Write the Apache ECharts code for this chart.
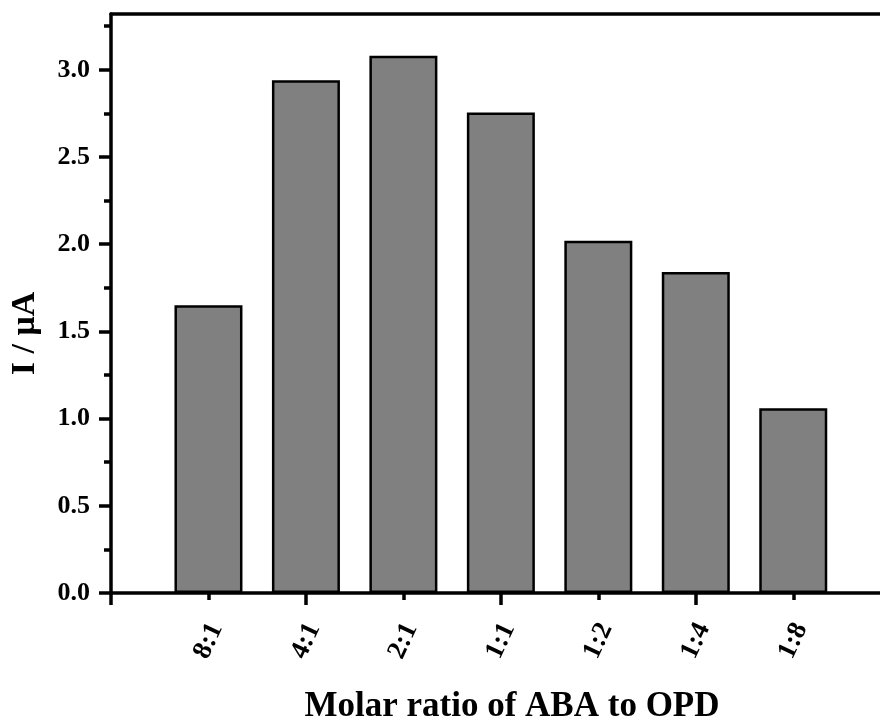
<!DOCTYPE html>
<html>
<head>
<meta charset="utf-8">
<script src="https://cdn.jsdelivr.net/npm/echarts@6/dist/echarts.min.js"></script>
<style>
  html, body { margin: 0; padding: 0; background: #fff; }
  #chart { width: 880px; height: 720px; }
</style>
</head>
<body>
<div id="chart"></div>
<script>
// molar ratio categories, placed at x = 1..7
const ratios = ['8:1', '4:1', '2:1', '1:1', '1:2', '1:4', '1:8']
const current = [1.65, 2.94, 3.08, 2.755, 2.02, 1.84, 1.06] // I / µA
const yMajor = [0, 0.5, 1.0, 1.5, 2.0, 2.5, 3.0]
const yMinor = [0.25, 0.75, 1.25, 1.75, 2.25, 2.75, 3.25]
const xMajor = [0, 2, 4, 6]
const xMinor = [1, 3, 5, 7]

const font = '"Liberation Serif", "Times New Roman", serif'
const positions = ratios.map((_, i) => i + 1)

const chart = echarts.init(document.getElementById('chart'))

// the frame runs off the right edge of the picture, so x stops short of 8
const baseX = {
  type: 'value',
  min: 0,
  max: 7.89,
  splitLine: { show: false },
}
const baseY = {
  type: 'value',
  min: 0,
  max: 3.32,
  position: 'left',
  splitLine: { show: false },
}
const black = { color: '#000', width: 3.5 }

chart.setOption({
  animation: false,
  grid: { left: 111, right: 0, top: 14, bottom: 127, outerBoundsMode: 'none' },
  xAxis: [
    {
      ...baseX,
      position: 'bottom',
      name: 'Molar ratio of ABA to OPD',
      nameLocation: 'middle',
      nameGap: 96,
      nameTextStyle: { fontFamily: font, fontWeight: 'bold', fontSize: 35, color: '#000', padding: [0, 0, 0, 33] },
      axisLine: { lineStyle: black },
      axisTick: { customValues: xMajor, length: 12, lineStyle: black },
      axisLabel: {
        customValues: positions,
        formatter: (v) => ratios[Math.round(v) - 1] || '',
        rotate: 65,
        align: 'center',
        verticalAlign: 'middle',
        margin: 48,
        fontFamily: font, fontWeight: 'bold', fontSize: 27, color: '#000',
      },
    },
    {
      ...baseX,
      position: 'bottom',
      axisLine: { show: false },
      axisTick: { customValues: xMinor, length: 7, lineStyle: black },
      axisLabel: { show: false },
    },
    {
      // top edge of the frame
      ...baseX,
      position: 'top',
      axisLine: { lineStyle: black },
      axisTick: { show: false },
      axisLabel: { show: false },
    },
  ],
  yAxis: [
    {
      ...baseY,
      name: 'I / μA',
      nameLocation: 'middle',
      nameGap: 69,
      nameTextStyle: { fontFamily: font, fontWeight: 'bold', fontSize: 34, color: '#000', padding: [0, 60, 0, 0] },
      axisLine: { lineStyle: black },
      axisTick: { customValues: yMajor, length: 12, lineStyle: black },
      axisLabel: {
        customValues: yMajor,
        formatter: (v) => v.toFixed(1),
        margin: 21,
        fontFamily: font, fontWeight: 'bold', fontSize: 26, color: '#000',
      },
    },
    {
      ...baseY,
      axisLine: { show: false },
      axisTick: { customValues: yMinor, length: 7, lineStyle: black },
      axisLabel: { show: false },
    },
  ],
  series: [
    {
      type: 'bar',
      xAxisIndex: 0,
      yAxisIndex: 0,
      data: positions.map((x, i) => [x, current[i]]),
      barWidth: 68,
      itemStyle: { color: '#808080', borderColor: '#000', borderWidth: 2.5 },
    },
  ],
})
</script>
</body>
</html>
